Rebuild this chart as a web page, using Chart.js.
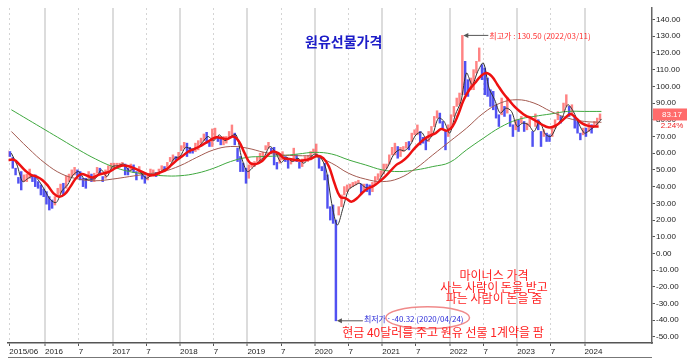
<!DOCTYPE html>
<html>
<head>
<meta charset="utf-8">
<title>원유선물가격</title>
<script src="https://cdn.jsdelivr.net/npm/chart.js@4.4.0/dist/chart.umd.min.js"></script>
<style>
  body { margin: 0; background: #fff; }
</style>
</head>
<body>
<canvas id="oilChart" width="687" height="360"></canvas>
<script>
// half-month price ranges, 2015/06 .. 2024/03
var priceStart = 2015 + 5 / 12;
var priceLow = [
  58,58,51,47,42,38,43,43,45,43,40,39,35,34,
  29.5,26,27,29,34,36,35,39,43,46,47,46,44,40,39,45,43,43,48,48,43,45,49,51,
  51,51.5,51.5,53,47,47,50,48.5,44,48,44.5,42,44,46,47,46,47,50,49.5,51,55,55.5,56,57,
  61.5,63,58,60,60,61,62,66,67.5,66,64,64,70,67,65,65,66,69,71,65,55,49,49,42,
  45,51.5,52,55,55.5,58,62,63,60,53,50.5,54,56,55,51,53.5,55,55,51,52,55.5,55,56,60,
  58,51,49.5,44,27,20,18,-40.32,23,28,35,37,39,40,41,42,36,38,37,35,37,41,44,46,
  47.5,51,53.5,59,59,57,58,61,63,62,67,71,71,65,66,62,67,70,76,81,78,75,62,70,
  75,82,88,89,95,95,94,98,98,108,115,104,95,94,88,86,81,76,83,82,84,76,70,74,
  73,78,73,74,76,64,76,74,64,70,67,67,70,75,80,78,85,88,82,83,75,72,68,71,
  70,73,72,76,77,80
];
var priceHigh = [
  61.5,61,57.5,51,45.5,49,47,47.5,50.5,46.5,47,43,41,38.5,
  37,34,32,34,39,41.5,42,46.5,47.5,50,51.5,50,49,45,45,49,47.5,48,51.5,51,46,50,52.5,54,
  54,54,54,54.5,53.5,51,53.5,53,49,52,48.5,46.5,47.5,50.5,50,48.5,50.5,52.5,52,54.5,57.5,59,58,60.5,
  64.5,66.5,66,63.5,62.5,66,67.5,69,71.5,72.5,66.5,74.5,75,70,69.5,70,70,73,76.9,72,63,58,54,51,
  53,54.5,55,57.5,60,60.5,64.5,66.5,63,63.5,54.5,59.5,60.9,58,57,56.5,63,59,54.5,56.5,58,58.5,61,62.5,
  65.5,58,52,54,47,28,29,20,28,35,40,41,41.5,42.5,43,43.8,41.5,41.5,41.5,41,42.5,46,47.7,49.5,
  53.5,53.5,59,63.5,66,64,63.5,64,66.5,67,72,74,76.9,73,69.5,69,73,76,82,85.4,84,79,73,77,
  83,88,93,96,130.5,115,104,105,110,115,123,113,111,105,98,97,89,83,93,88,93,83,77,80,
  80,82,79,78,80.5,73,83.5,80,73,74,72,71,76,80,84.9,82,90,95,88,89,82,79,72,75,
  75,78,77,79,81,83.5
];

// short moving average, month ends
var shortStart = 2015.5;
var shortMA = [
  60,53,43,45,46.5,43,37.5,
  32,30.5,37.5,41,47,49,44.5,44.5,45,50,46,52,
  52.5,53.5,49.5,51,48.5,45,47,48,50,51.5,57,58,
  63.5,62.5,63,66.5,70,67.5,71,67.5,70,71,57,49,
  51.5,55,58,64,60.5,54.5,57.5,55,57,54,57,59.5,
  57.5,50.5,30,17,27,38,40.5,42,39.5,39.5,41.5,47,
  52,59,62,61.5,65,71,72.5,67.5,71.5,81,79,72,
  83,91,108,101,109,114,99,92,84,87,85,76,
  78,77,73,79,71.5,70,76,81,89,85,77.5,72,
  74,76.5,80.5
];

// mid moving average (thick red), mid-month
var midStart = 2015 + 5.5 / 12;
var midMA = [
  56,56,53,49.5,47,46,44,
  40.5,36,34,35.5,40,45,47.5,46.5,45.5,47,48,49,
  51,52.5,52.5,51.5,50,48.5,47,47,48.5,50,53,56,
  58.5,61,62.5,64,66,68,69.5,69,68.5,70,67,60,
  54,53.5,55,58.5,61,60,57,56.5,56,55.5,56,57,
  58.5,57,52,42,34,33,31,33,36.5,39,40.5,43,
  46,49.5,53,55,58,62,65.5,68.5,70.5,72,74.5,73.5,
  76,83,92,98,102,106,108,106,101,96,92,88,
  85,82.5,81,79,77,75.5,76,78,81,83.5,81,78,
  76.5,76,76
];

// long moving averages, quarterly samples
var longStart = 2015.5;
var brownMA = [73,63,54,47.5,44.5,43.5,44.5,46,47.5,49,52.5,57.5,62,64,63,60.5,59,58.5,
  58,54,48,44.5,43,45,51,59,67,75,84,90,92,90,85,81,79,78.5];
var greenMA = [86,80,74,68,62,56.5,52,49,47.5,46.5,46.5,48,51,55,57.5,58,58.5,59.5,
  60.5,59.5,56,53,50,49,50,52,54.5,62,69,75.5,80,82,83.5,85,85,85];

// x axis ticks
var tickValues = [2015.47,2016,2016.5,2017,2017.5,2018,2018.5,2019,2019.5,2020,2020.5,
  2021,2021.5,2022,2022.5,2023,2023.5,2024];
var tickLabels = ['2015/06','2016','7','2017','7','2018','7','2019','7','2020','7',
  '2021','7','2022','7','2023','7','2024'];

var lastPrice = 83.17, lastChange = '2.24%';
var maxDate = 2022 + 2.25 / 12, maxPrice = 130.50;
var minDate = 2020 + 3.75 / 12, minPrice = -40.32;

var bars = [], barColors = [];
for (var i = 0; i < priceLow.length; i++) {
  bars.push({x: priceStart + (i + 0.5) / 24, y: [priceLow[i], priceHigh[i]]});
  var mid = (priceLow[i] + priceHigh[i]) / 2;
  var prev = i > 0 ? (priceLow[i - 1] + priceHigh[i - 1]) / 2 : 0;
  barColors.push(mid >= prev ? 'rgba(255,90,90,0.75)' : 'rgba(50,50,240,0.85)');
}
function series(start, step, vals) {
  return vals.map(function (v, i) { return {x: start + i * step, y: v}; });
}

var KR = '"Noto Sans CJK KR", sans-serif';

function arrowLeft(ctx, x1, x2, y) {
  ctx.strokeStyle = '#555'; ctx.fillStyle = '#555'; ctx.lineWidth = 1;
  ctx.beginPath(); ctx.moveTo(x1, y); ctx.lineTo(x2 + 4, y); ctx.stroke();
  ctx.beginPath(); ctx.moveTo(x2, y); ctx.lineTo(x2 + 5, y - 2.5); ctx.lineTo(x2 + 5, y + 2.5);
  ctx.closePath(); ctx.fill();
}

var notes = {
  id: 'notes',
  afterDatasetsDraw: function (chart) {
    var ctx = chart.ctx, xs = chart.scales.x, ys = chart.scales.y;
    ctx.save();
    // title
    ctx.font = 'bold 14px ' + KR;
    ctx.fillStyle = '#1c1cc8';
    ctx.textBaseline = 'middle';
    ctx.textAlign = 'left';
    ctx.fillText('원유선물가격', 305, 42);

    // high
    var hx = xs.getPixelForValue(maxDate), hy = ys.getPixelForValue(maxPrice);
    arrowLeft(ctx, hx + 26, hx + 1, hy);
    ctx.font = '8px ' + KR;
    ctx.fillStyle = '#ff3030';
    ctx.fillText('최고가 : ' + maxPrice.toFixed(2) + ' (2022/03/11)', hx + 27, hy + 1);

    // low
    var lx = xs.getPixelForValue(minDate), ly = ys.getPixelForValue(minPrice);
    arrowLeft(ctx, lx + 27, lx + 1, ly);
    var pre = '최저가 : ', rest = minPrice.toFixed(2) + ' (2020/04/24)';
    ctx.fillStyle = '#2a2ad8';
    ctx.fillText(pre + rest, lx + 28, ly - 2);
    var pw = ctx.measureText(pre).width, rw = ctx.measureText(rest).width;
    ctx.strokeStyle = '#f08a8a'; ctx.lineWidth = 1.5;
    ctx.beginPath();
    ctx.ellipse(lx + 28 + pw + rw / 2, ly - 3, rw / 2 + 6, 11, 0, 0, Math.PI * 2);
    ctx.stroke();

    // comments
    ctx.font = '12px ' + KR;
    ctx.fillStyle = '#ff2222';
    ctx.textAlign = 'center';
    ctx.fillText('마이너스 가격', 494, 275);
    ctx.fillText('사는 사람이 돈을 받고', 494, 287);
    ctx.fillText('파는 사람이 돈을 줌', 494, 298);
    ctx.fillText('현금 40달러를 주고 원유 선물 1계약을 팜', 443, 332);
    ctx.restore();
  },
  afterDraw: function (chart) {
    var ctx = chart.ctx, ys = chart.scales.y, area = chart.chartArea;
    ctx.save();
    var by = ys.getPixelForValue(lastPrice);
    ctx.fillStyle = '#ff6b6b';
    ctx.fillRect(area.right + 1, by - 6, chart.width - area.right - 1, 12);
    ctx.font = '8px "Liberation Sans", Arial, sans-serif';
    ctx.textAlign = 'center';
    ctx.textBaseline = 'middle';
    ctx.fillStyle = '#fff';
    ctx.fillText(lastPrice.toFixed(2), 672, by);
    ctx.fillStyle = '#ee2222';
    ctx.fillText(lastChange, 672, by + 11);
    // frame line under the date labels
    ctx.strokeStyle = '#777'; ctx.lineWidth = 1;
    ctx.beginPath(); ctx.moveTo(area.left, 357.5); ctx.lineTo(area.right, 357.5); ctx.stroke();
    ctx.restore();
  }
};

function isYear(i) { return tickLabels[i] && tickLabels[i].length === 4; }

Chart.defaults.font.family = '"Liberation Sans", Arial, sans-serif';
Chart.defaults.font.size = 8;
Chart.defaults.color = '#222';

new Chart(document.getElementById('oilChart'), {
  type: 'line',
  data: {
    datasets: [
      {label: 'MA short', data: series(shortStart, 1 / 12, shortMA), borderColor: '#333',
        borderWidth: 1, pointRadius: 0, tension: 0.3, order: 2},
      {label: 'MA mid', data: series(midStart, 1 / 12, midMA), borderColor: '#ee1111',
        borderWidth: 2.5, pointRadius: 0, tension: 0.4, order: 1},
      {label: 'MA long', data: series(longStart, 0.25, brownMA), borderColor: '#a35a50',
        borderWidth: 1, pointRadius: 0, tension: 0.4, order: 3},
      {label: 'MA longest', data: series(longStart, 0.25, greenMA), borderColor: '#3fa83f',
        borderWidth: 1, pointRadius: 0, tension: 0.4, order: 4},
      {type: 'bar', label: 'price', data: bars, backgroundColor: barColors,
        barThickness: 1.8, order: 5}
    ]
  },
  options: {
    responsive: false,
    animation: false,
    layout: {padding: {left: 8, top: 8, right: 0, bottom: 0}},
    plugins: {legend: {display: false}, tooltip: {enabled: false}},
    scales: {
      x: {
        type: 'linear',
        offset: false,
        min: 2015.45, max: 2025.0,
        afterBuildTicks: function (s) { s.ticks = tickValues.map(function (v) { return {value: v}; }); },
        afterFit: function (s) { s.height = 17; },
        ticks: {
          autoSkip: false, maxRotation: 0, align: 'start', padding: 1,
          color: '#222',
          callback: function (v, i) { return tickLabels[i]; }
        },
        grid: {
          offset: false,
          color: function (c) { return isYear(c.index) ? '#dcdcdc' : '#d4d4d4'; },
          lineWidth: function (c) { return isYear(c.index) ? 2 : 1; },
          tickColor: '#555', tickWidth: 1, tickLength: 3
        },
        border: {
          color: '#555', width: 1.5,
          dash: function (c) { return (c.tick && !isYear(c.index)) ? [2, 3] : []; }
        }
      },
      y: {
        type: 'linear',
        position: 'right',
        min: -53.6, max: 146.9,
        afterBuildTicks: function (s) {
          var t = [];
          for (var v = -50; v <= 140; v += 5) t.push({value: v});
          s.ticks = t;
        },
        afterFit: function (s) { s.width = 35; },
        ticks: {
          padding: 1, color: '#222',
          callback: function (v) { return v % 10 === 0 ? v.toFixed(2) : ''; }
        },
        grid: {drawOnChartArea: false, tickColor: '#555', tickLength: 3},
        border: {color: '#666', width: 1.5}
      }
    }
  },
  plugins: [notes]
});
</script>
</body>
</html>
